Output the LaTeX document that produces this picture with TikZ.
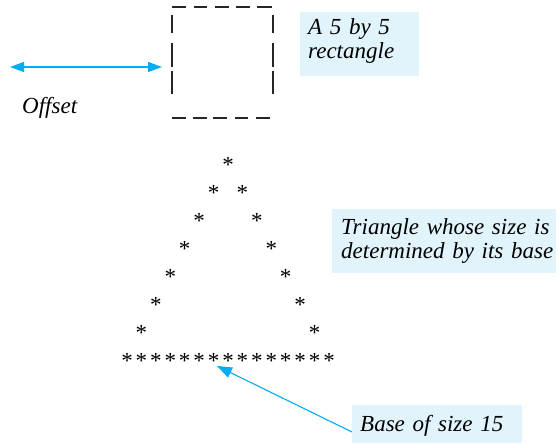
\documentclass[tikz,border=0pt]{standalone}
\usepackage{fontspec}
\setmainfont{Liberation Serif}
\usetikzlibrary{arrows.meta}
\definecolor{callcyan}{RGB}{0,174,239}
\definecolor{callfill}{RGB}{225,243,251}
\tikzset{
  lbl/.style={anchor=base west, align=left, inner sep=0pt, text width=230pt,
    font=\fontsize{23}{24}\selectfont\itshape},
  star/.style={anchor=base, inner sep=0pt, font=\fontsize{23}{24}\selectfont},
  charline/.style={line width=1.3pt, black!85},
  callarrow/.style={callcyan, line width=1.1pt},
}
\begin{document}
\begin{tikzpicture}[x=1pt,y=-1pt]
\useasboundingbox (0,0) rectangle (558,444);
% dashed rectangle made of characters
\foreach \a/\b in {172/186,194/207,215/229,236/250,257/272}{\draw[charline] (\a,7) -- (\b,7);}
\foreach \a/\b in {172/186,193/207,213/227,235/248,256/270}{\draw[charline] (\a,118) -- (\b,118);}
\foreach \a/\b in {15/33,43/67,71/94}{\draw[charline] (172,\a) -- (172,\b); \draw[charline] (273,\a) -- (273,\b);}
% offset arrow
\coordinate (o1) at (10,67);
\coordinate (o2) at (162,67);
\draw[callarrow, {Triangle[length=14pt,width=10pt]}-{Triangle[length=14pt,width=10pt]}] (o1) -- (o2);
\node[anchor=base west, inner sep=0pt, font=\fontsize{23}{24}\selectfont\itshape] (off) at (22,114) {Offset};
% label backgrounds
\fill[callfill] (300,12) rectangle (419,76);
\fill[callfill] (332,209) rectangle (556,273);
\fill[callfill] (352,405) rectangle (522,443);
% labels
\node[lbl] (rect) at (308,35) {A 5 by 5\\rectangle};
\node[lbl] (tri) at (341,235) {Triangle whose size is\\determined by its base};
\node[lbl] (base) at (360,431) {Base of size 15};
% triangle of asterisks
\node[star] (s-0-7) at (127+14.43*7, 162+11) {*};
\foreach \r in {1,...,6}{
  \pgfmathsetmacro{\cl}{7-\r}
  \pgfmathsetmacro{\cr}{7+\r}
  \node[star] (s-\r-l) at (127+14.43*\cl, 162+27.9*\r+11) {*};
  \node[star] (s-\r-r) at (127+14.43*\cr, 162+27.9*\r+11) {*};
}
\foreach \c in {0,...,14}{
  \node[star] (s-7-\c) at (127+14.43*\c, 162+27.9*7+11) {*};
}
% base arrow
\coordinate (tip) at (217,366);
\coordinate (bstart) at (352,432);
\draw[callarrow, -{Triangle[length=15pt,width=11pt]}] (bstart) -- (tip);
\end{tikzpicture}
\end{document}
